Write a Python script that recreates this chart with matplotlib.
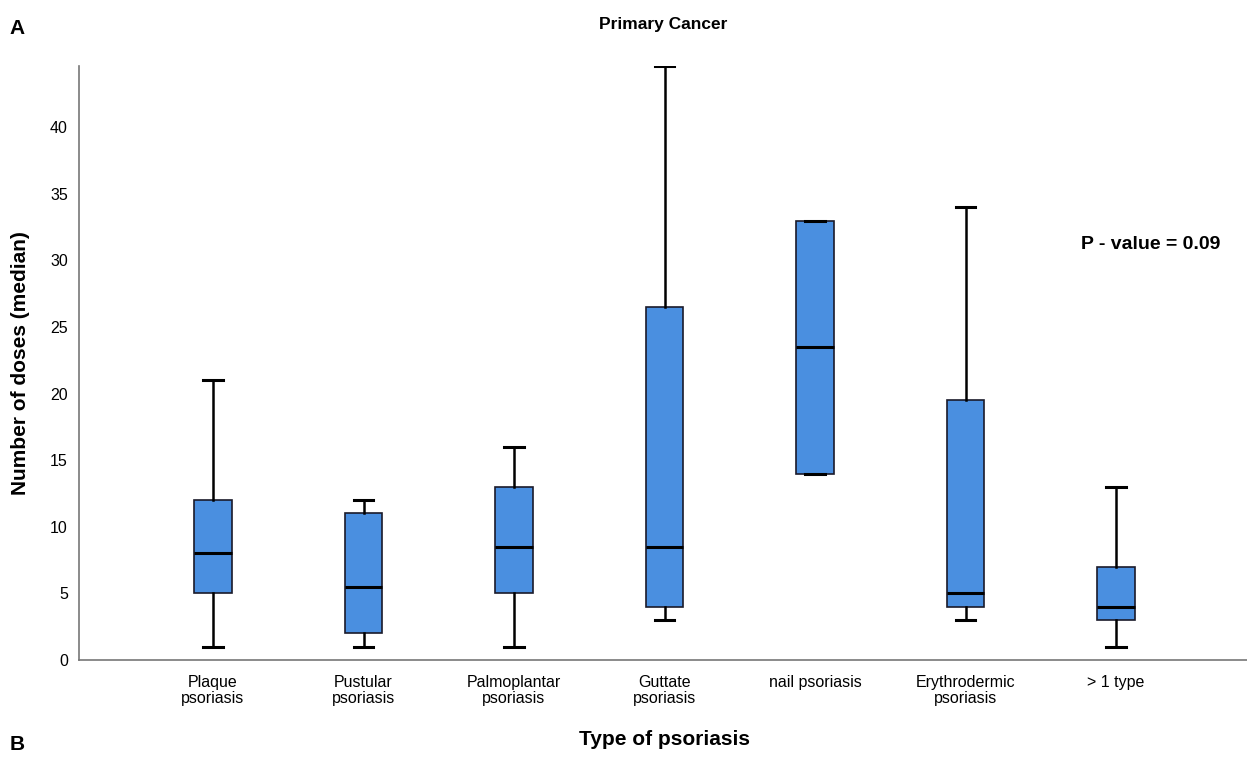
import matplotlib
matplotlib.use("Agg")
import matplotlib.pyplot as plt

plt.rcParams['font.family'] = ['Liberation Sans', 'DejaVu Sans']

categories = ["Plaque\npsoriasis", "Pustular\npsoriasis", "Palmoplantar\npsoriasis",
              "Guttate\npsoriasis", "nail psoriasis", "Erythrodermic\npsoriasis", "> 1 type"]
whisker_low = [1, 1, 1, 3, 14, 3, 1]
q1 = [5, 2, 5, 4, 14, 4, 3]
median = [8, 5.5, 8.5, 8.5, 23.5, 5, 4]
q3 = [12, 11, 13, 26.5, 33, 19.5, 7]
whisker_high = [21, 12, 16, 44.6, 33, 34, 13]
y_ticks = [0, 5, 10, 15, 20, 25, 30, 35, 40]

stats = []
for i, name in enumerate(categories):
    stats.append({'label': name, 'whislo': whisker_low[i], 'q1': q1[i], 'med': median[i],
                  'q3': q3[i], 'whishi': whisker_high[i], 'fliers': []})

fig = plt.figure(figsize=(12.47, 7.58), dpi=100)
ax = fig.add_axes([0.0634, 0.1293, 0.9366, 0.7836])
ax.bxp(stats, positions=range(len(categories)), widths=0.25, patch_artist=True,
       showfliers=False,
       boxprops=dict(facecolor='#4a8fe0', edgecolor='#1a1a2a', linewidth=1.2),
       medianprops=dict(color='black', linewidth=2.2),
       whiskerprops=dict(color='black', linewidth=1.8),
       capprops=dict(color='black', linewidth=2.2), capwidths=0.13)

ax.set_xlim(-0.89, 6.87)
ax.set_ylim(0, 44.6)
ax.set_yticks(y_ticks)
ax.tick_params(axis='both', length=0, labelsize=11.5)
ax.tick_params(axis='y', pad=8)
ax.tick_params(axis='x', pad=11)
for lbl in ax.get_xticklabels():
    lbl.set_linespacing(1.05)
for s in ['top', 'right']:
    ax.spines[s].set_visible(False)
for s in ['left', 'bottom']:
    ax.spines[s].set_color('#777777')
    ax.spines[s].set_linewidth(1.2)

ax.set_ylabel("Number of doses (median)", fontsize=15, fontweight='bold')
ax.yaxis.set_label_coords(-0.042, 0.5)
fig.text(0.533, 0.017, "Type of psoriasis", fontsize=15, fontweight='bold', ha='center')
fig.text(0.532, 0.962, "Primary Cancer", fontsize=12.5, fontweight='bold', ha='center')
fig.text(0.008, 0.955, "A", fontsize=15, fontweight='bold')
fig.text(0.008, 0.01, "B", fontsize=15, fontweight='bold')
ax.text(0.9173, 0.7, "P - value = 0.09", transform=ax.transAxes, fontsize=14,
        fontweight='bold', ha='center', va='center')

fig.savefig("out.png", dpi=100)
